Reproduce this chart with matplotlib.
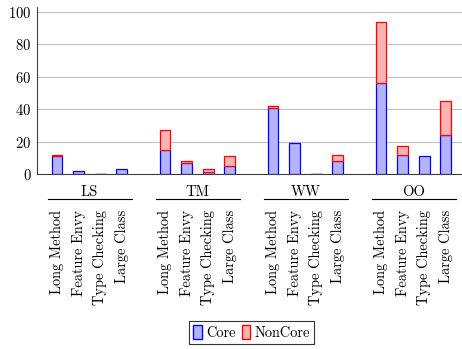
import matplotlib
matplotlib.use("Agg")
import matplotlib.pyplot as plt
import matplotlib.transforms as mtransforms
from matplotlib.patches import Patch

plt.rcParams['font.family'] = ['cmr10', 'DejaVu Serif']
plt.rcParams['axes.formatter.use_mathtext'] = True
plt.rcParams['mathtext.fontset'] = 'cm'

# data
groups = ["LS", "TM", "WW", "OO"]
smells = ["Long Method", "Feature Envy", "Type Checking", "Large Class"]
core = [11, 2, 0, 3,
        15, 7, 1, 5,
        41, 19, 0, 8,
        56, 12, 11, 24]
noncore = [1, 0, 0, 0,
           12, 1, 2, 6,
           1, 0, 0, 4,
           38, 5, 0, 21]

core_face = "#b3b3ff"
noncore_face = "#ffb3b3"

fig = plt.figure(figsize=(4.62, 3.49), dpi=100)
ax = fig.add_axes([0.080, 0.5014, 0.92, 0.4786])

# x positions: 4 bars per group, one empty slot between groups
xs = []
for g in range(len(groups)):
    for s in range(len(smells)):
        xs.append(g * (len(smells) + 1) + s)

# empty NonCore segments only show a red edge when the whole bar is empty
nc_edges = ["red" if (n > 0 or c == 0) else "none" for c, n in zip(core, noncore)]

width = 0.5
ax.bar(xs, core, width, color=core_face, edgecolor="blue", linewidth=0.9, zorder=3)
ax.bar(xs, noncore, width, bottom=core, color=noncore_face, edgecolor=nc_edges,
       linewidth=0.9, zorder=3)

ax.set_xlim(-0.93, 18.75)
ax.set_ylim(0, 103)
ax.set_yticks([0, 20, 40, 60, 80, 100])
ax.yaxis.grid(True, color="#c0c0c0", linewidth=0.8, zorder=0)
ax.set_axisbelow(True)

for side in ("top", "right"):
    ax.spines[side].set_visible(False)
ax.spines["left"].set_color("#404040")
ax.spines["bottom"].set_color("#404040")
ax.spines["left"].set_linewidth(0.8)
ax.spines["bottom"].set_linewidth(0.8)

ax.tick_params(axis="y", length=0, labelsize=10.5, pad=4)
ax.set_xticks(xs)
ax.set_xticklabels(smells * len(groups), rotation=90, va="top", fontsize=10.4)
ax.tick_params(axis="x", length=0, pad=26)

# group labels with underline
trans = mtransforms.blended_transform_factory(ax.transData, ax.transAxes)
for g, name in enumerate(groups):
    x0 = g * (len(smells) + 1)
    center = x0 + (len(smells) - 1) / 2
    ax.text(center, -0.07, name, transform=trans, ha="center", va="top",
            fontsize=10.5)
    ax.plot([x0 - 0.4, x0 + len(smells) - 1 + 0.45], [-0.152, -0.152],
            transform=trans, color="black", linewidth=0.8, clip_on=False)

handles = [Patch(facecolor=core_face, edgecolor="blue", label="Core"),
           Patch(facecolor=noncore_face, edgecolor="red", label="NonCore")]
leg = fig.legend(handles=handles, loc="lower center", bbox_to_anchor=(0.545, 0.005),
                 ncol=2, fontsize=10.4, frameon=True, fancybox=False,
                 handlelength=0.6, handleheight=1.1, handletextpad=0.3,
                 columnspacing=0.4, borderpad=0.3, borderaxespad=0.2)
leg.get_frame().set_edgecolor("black")
leg.get_frame().set_linewidth(0.8)

fig.savefig("out.png", dpi=100)
